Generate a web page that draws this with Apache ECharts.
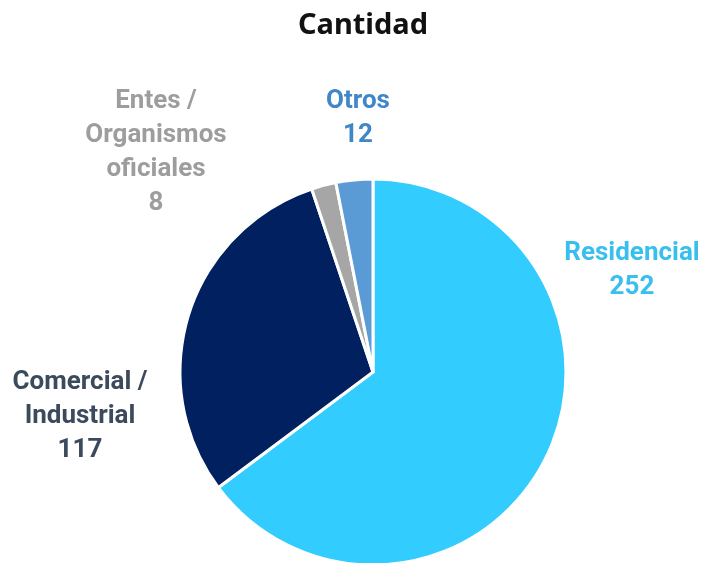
<!DOCTYPE html>
<html><head><meta charset="utf-8">
<script src="https://cdn.jsdelivr.net/npm/echarts@6/dist/echarts.min.js"></script>
<style>html,body{margin:0;padding:0;background:#fff}#c{width:703px;height:563px}</style>
</head><body><div id="c"></div>
<script>
const categories = ["Residencial", "Comercial /\nIndustrial", "Entes /\nOrganismos\noficiales", "Otros"];
const values = [252, 117, 8, 12];
const sliceColors = ["#33CCFF", "#002060", "#A6A6A6", "#5B9BD5"];
const labelColors = ["#38BFEE", "#3B4A5C", "#9D9D9D", "#3F87C9"];
const labelPos = [[632, 270], [80, 416], [156, 152], [358, 118]];

const chart = echarts.init(document.getElementById('c'));
const FONT = 'Roboto, sans-serif';
chart.setOption({
  animation: false,
  title: {
    text: 'Cantidad', left: 358, top: 6, textAlign: 'center',
    textStyle: { fontFamily: '"Noto Sans", Roboto, sans-serif', fontWeight: 'bold', fontSize: 29, color: '#111' }
  },
  series: [{
    type: 'pie',
    center: [373, 372],
    radius: [0, 193],
    startAngle: 90,
    clockwise: true,
    itemStyle: { borderColor: '#fff', borderWidth: 3 },
    labelLine: { show: false },
    label: {
      show: true, position: 'outside', overflow: 'none', width: 300,
      formatter: p => p.name + '\n' + p.value,
      fontFamily: FONT, fontWeight: 'bold', fontSize: 26, lineHeight: 34, align: 'center'
    },
    labelLayout: p => ({ x: labelPos[p.dataIndex][0], y: labelPos[p.dataIndex][1], align: 'center', verticalAlign: 'middle', hideOverlap: false }),
    data: categories.map((c, i) => ({
      name: c, value: values[i],
      itemStyle: { color: sliceColors[i] },
      label: { color: labelColors[i] }
    }))
  }]
});
</script></body></html>
